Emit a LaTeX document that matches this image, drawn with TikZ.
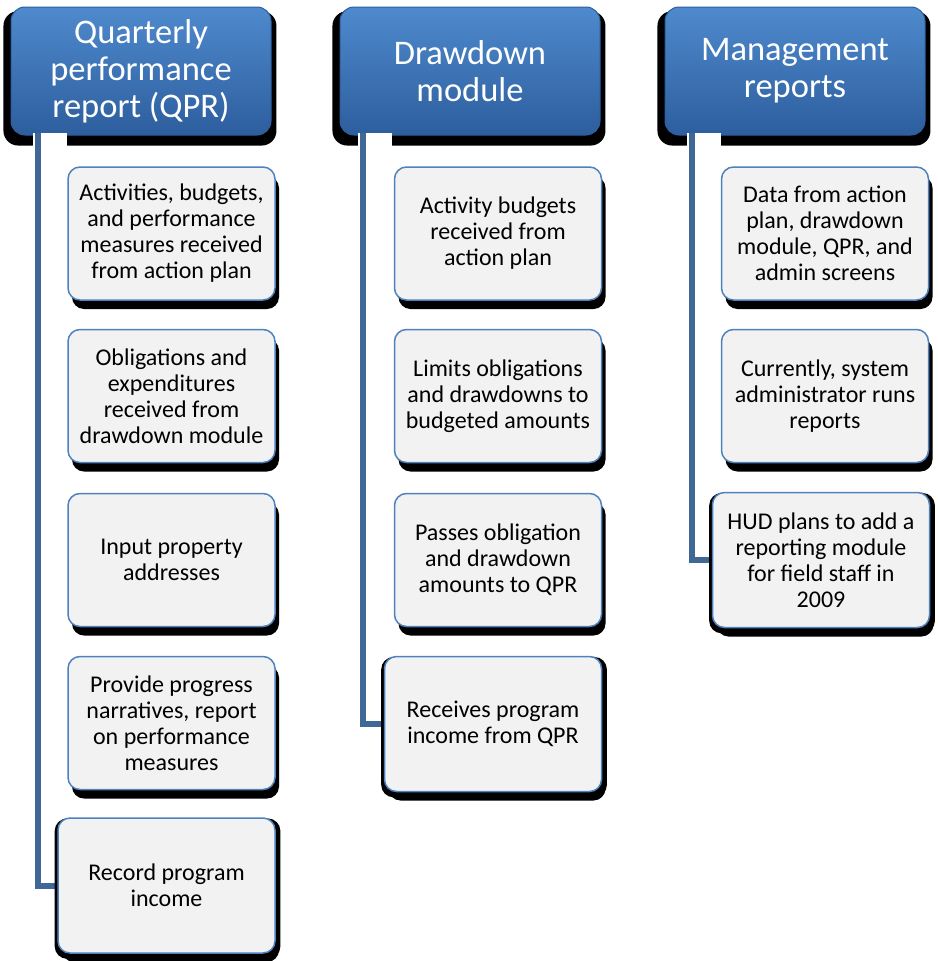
\documentclass[tikz,border=0pt]{standalone}
\usepackage{fontspec}
\setmainfont{Carlito}
\usepackage{tikz}
\usetikzlibrary{calc}
\usetikzlibrary{shadows}
\definecolor{headtop}{HTML}{4E8ACD}
\definecolor{headbot}{HTML}{2D5E9E}
\definecolor{linkblue}{HTML}{3F6896}
\definecolor{itemedge}{HTML}{4F81BD}
\definecolor{itemfill}{HTML}{F2F2F2}
\tikzset{>=latex}
\tikzset{
	head/.style={rectangle, rounded corners=14pt, minimum width=260pt, minimum height=128pt,
		top color=headtop, bottom color=headbot, draw=headbot, line width=1pt,
		text=white, align=center, font=\fontsize{34.5}{37}\selectfont,
		drop shadow={fill=black, opacity=1, shadow xshift=-1pt, shadow yshift=-7pt, shadow scale=1.05}},
	item/.style={rectangle, rounded corners=12pt, minimum width=207pt, minimum height=133pt,
		fill=itemfill, draw=itemedge, line width=1.5pt,
		text=black, align=center, font=\fontsize{24}{26}\selectfont,
		drop shadow={fill=black, opacity=1, shadow xshift=4pt, shadow yshift=-9pt}},
	lastitem/.style={item, minimum width=217pt, minimum height=135pt,
		drop shadow={fill=black, opacity=1, shadow xshift=1pt, shadow yshift=-3pt, shadow scale=1.04}},
	link/.style={draw=linkblue, line width=6pt}
}

\begin{document}
\begin{tikzpicture}[x=1pt,y=-1pt]
	\useasboundingbox (0,0) rectangle (937,961);
	\coordinate (L1) at (38,133);
	\coordinate (L2) at (363,133);
	\coordinate (L3) at (692,133);

	\node[head] (qpr) at (141,71) {Quarterly\\performance\\report (QPR)};
	\node[head] (draw) at (470,71) {Drawdown\\module};
	\node[head] (mgmt) at (795,71) {Management\\reports};

	\fill[white] ($(L1)+(-5,0)$) rectangle ($(L1)+(29,16)$);
	\fill[white] ($(L2)+(-5,0)$) rectangle ($(L2)+(29,16)$);
	\fill[white] ($(L3)+(-5,0)$) rectangle ($(L3)+(29,16)$);
	\draw[link] (L1) |- (166.5,885.5) coordinate (E1);
	\draw[link] (L2) |- (493,724) coordinate (E2);
	\draw[link] (L3) |- (821,560) coordinate (E3);

	\node[item] (qpr1) at (171.5,233.5) {Activities, budgets,\\and performance\\measures received\\from action plan};
	\node[item] (qpr2) at (171.5,396) {Obligations and\\expenditures\\received from\\drawdown module};
	\node[item] (qpr3) at (171.5,560) {Input property\\addresses};
	\node[item] (qpr4) at (171.5,723) {Provide progress\\narratives, report\\on performance\\measures};
	\node[lastitem] (qpr5) at (E1) {Record program\\income};

	\node[item] (draw1) at (498,233.5) {Activity budgets\\received from\\action plan};
	\node[item] (draw2) at (498,396) {Limits obligations\\and drawdowns to\\budgeted amounts};
	\node[item] (draw3) at (498,560) {Passes obligation\\and drawdown\\amounts to QPR};
	\node[lastitem] (draw4) at (E2) {Receives program\\income from QPR};

	\node[item] (mgmt1) at (825,233.5) {Data from action\\plan, drawdown\\module, QPR, and\\admin screens};
	\node[item] (mgmt2) at (825,396) {Currently, system\\administrator runs\\reports};
	\node[lastitem] (mgmt3) at (E3) {HUD plans to add a\\reporting module\\for field staff in\\2009};
\end{tikzpicture}
\end{document}
